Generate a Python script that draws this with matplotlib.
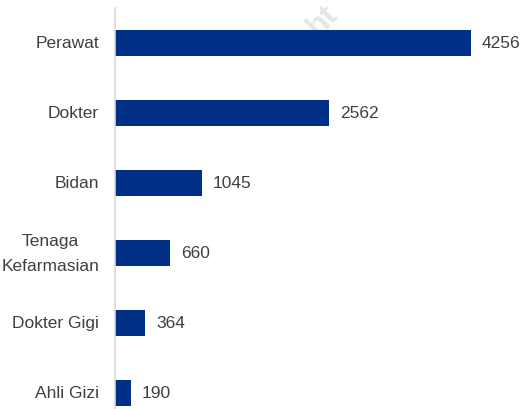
import matplotlib
matplotlib.use("Agg")
import matplotlib.pyplot as plt
from matplotlib.transforms import blended_transform_factory, ScaledTranslation

categories = ["Perawat", "Dokter", "Bidan", "Tenaga\nKefarmasian", "Dokter Gigi", "Ahli Gizi"]
values = [4256, 2562, 1045, 660, 364, 190]

plt.rcParams['font.family'] = ['Liberation Sans Narrow', 'Liberation Sans', 'DejaVu Sans']

W, H = 527, 410
fig = plt.figure(figsize=(W / 100, H / 100), dpi=100)
left = 115 / W
right = 510 / W
top = (H - 9) / H
bottom = (H - 429) / H
ax = fig.add_axes([left, bottom, right - left, top - bottom])

bar_color = "#003087"
text_color = "#404040"
y = list(range(len(categories)))
ax.barh(y, values, height=0.36, color=bar_color, zorder=2)
ax.set_ylim(len(categories) - 0.5, -0.5)
xmax = (510 - 115) / (356 / 4256)
ax.set_xlim(0, xmax)

for yi, v in zip(y, values):
    ax.text(v + xmax * 0.027, yi, str(v), va="center", ha="left",
            fontsize=12.5, color=text_color, zorder=3)

ax.set_yticks([])
ax.set_xticks([])
trans = blended_transform_factory(ax.transAxes, ax.transData)
for yi, c in zip(y, categories):
    t = trans + ScaledTranslation(-16 / 100, 0, fig.dpi_scale_trans)
    ax.text(0, yi, c, transform=t, ha="right", va="center", fontsize=12.5,
            color=text_color, linespacing=1.9, multialignment="center")

for s in ["top", "right", "bottom"]:
    ax.spines[s].set_visible(False)
ax.spines["left"].set_color("#d9d9d9")
ax.spines["left"].set_linewidth(1.2)

ax.text(318 / W, (H - 37) / H, "ht", rotation=45, fontsize=23, color="#e6e6e6",
        fontweight="bold", ha="left", va="baseline", rotation_mode="anchor",
        transform=fig.transFigure, zorder=1, clip_on=False)

fig.savefig("out.png", dpi=100)
